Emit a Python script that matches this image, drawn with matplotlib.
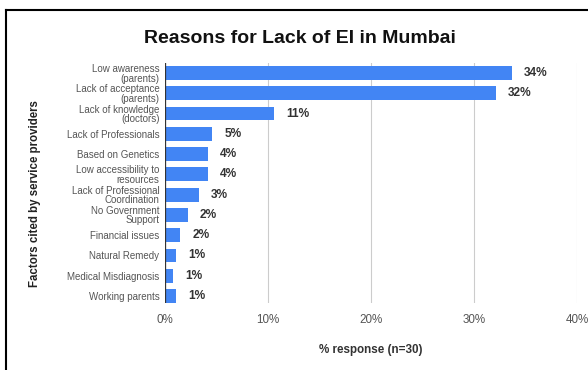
import matplotlib.pyplot as plt
from matplotlib.lines import Line2D

plt.rcParams['font.family'] = ['Liberation Sans', 'DejaVu Sans']

# Data
factors = ["Low awareness\n(parents)", "Lack of acceptance\n(parents)",
           "Lack of knowledge\n(doctors)", "Lack of Professionals",
           "Based on Genetics", "Low accessibility to\nresources",
           "Lack of Professional\nCoordination", "No Government\nSupport",
           "Financial issues", "Natural Remedy", "Medical Misdiagnosis",
           "Working parents"]
values = [33.7, 32.1, 10.6, 4.6, 4.2, 4.2, 3.3, 2.2, 1.5, 1.1, 0.8, 1.1]
value_labels = ["34%", "32%", "11%", "5%", "4%", "4%", "3%", "2%", "2%",
                "1%", "1%", "1%"]
xticks = [0, 10, 20, 30, 40]

fig = plt.figure(figsize=(5.88, 3.70), dpi=100)
ax = fig.add_axes([0.2806, 0.181, 0.7006, 0.649])

ypos = list(range(len(factors)))
ax.barh(ypos, values, height=0.68, color='#4285F4', zorder=3)
for y, v, lab in zip(ypos, values, value_labels):
    ax.text(v + 1.15, y, lab, va='center', ha='left', fontsize=8.6,
            fontweight='bold', color='#333333')

ax.set_xlim(0, 40)
ax.set_ylim(11.35, -0.5)
ax.set_xticks(xticks)
ax.set_xticklabels([f"{t}%" for t in xticks], fontsize=8.4, color='#555555')
ax.set_yticks(ypos)
ax.set_yticklabels(factors, fontsize=7, color='#555555', linespacing=0.95)
ax.tick_params(axis='both', length=0, pad=4)
ax.tick_params(axis='x', pad=8)
ax.grid(axis='x', color='#cccccc', linewidth=0.8, zorder=0)
for s in ax.spines.values():
    s.set_visible(False)
ax.axvline(0, color='#333333', linewidth=0.9, zorder=4)

ax.set_xlabel("% response (n=30)", fontsize=8.4, fontweight='bold',
              color='#333333', labelpad=13)
fig.text(0.06, 0.478, "Factors cited by service providers", rotation=90,
         ha='center', va='center', fontsize=8.3, fontweight='bold',
         color='#222222')
fig.text(0.51, 0.897, "Reasons for Lack of EI in Mumbai", ha='center',
         va='center', fontsize=14, fontweight='bold', color='#111111')

# frame border (left and top edges visible)
fig.add_artist(Line2D([0.011, 0.011], [0.0, 0.973], color='black',
                      linewidth=1.5, transform=fig.transFigure))
fig.add_artist(Line2D([0.011, 1.0], [0.973, 0.973], color='black',
                      linewidth=1.5, transform=fig.transFigure))

fig.savefig('out.png', dpi=100)
